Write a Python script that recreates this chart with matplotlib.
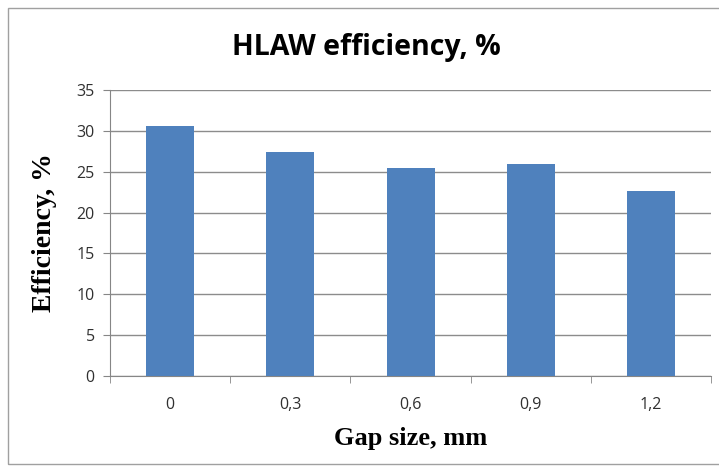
import matplotlib
matplotlib.use("Agg")
import matplotlib.pyplot as plt
from matplotlib.patches import Rectangle

gap_labels = ["0", "0,3", "0,6", "0,9", "1,2"]
efficiency = [30.6, 27.4, 25.4, 25.9, 22.7]
y_ticks = [0, 5, 10, 15, 20, 25, 30, 35]

fig = plt.figure(figsize=(7.19, 4.70), dpi=100)
ax = fig.add_axes([0.153, 0.2, 0.836, 0.6085])

# chart frame
fig.patches.append(Rectangle((0.011, 0.012), 1.2, 0.972, transform=fig.transFigure,
                             fill=False, edgecolor="#a0a0a0", linewidth=1.0))

x = range(len(gap_labels))
ax.bar(x, efficiency, width=0.4, color="#4F81BD", zorder=3)

ax.set_xlim(-0.5, len(gap_labels) - 0.5)
ax.set_ylim(0, 35)
ax.set_yticks(y_ticks)
ax.set_xticks(list(x))
ax.set_xticklabels(gap_labels)
ax.set_xticks([i - 0.5 for i in range(len(gap_labels) + 1)], minor=True)
ax.tick_params(axis="x", which="major", length=0, pad=15)
ax.tick_params(axis="x", which="minor", length=5, color="#868686")
ax.tick_params(axis="y", length=5, color="#868686", pad=6)
for lbl in ax.get_xticklabels() + ax.get_yticklabels():
    lbl.set_fontfamily("Open Sans")
    lbl.set_fontsize(11.5)
    lbl.set_color("#303030")

ax.yaxis.grid(True, color="#8c8c8c", linewidth=1.0, zorder=0)
for side in ["top", "right"]:
    ax.spines[side].set_visible(False)
for side in ["left", "bottom"]:
    ax.spines[side].set_color("#868686")

ax.set_xlabel("Gap size, mm", fontfamily="Liberation Serif", fontweight="bold",
              fontsize=19, labelpad=10)
ax.set_ylabel("Efficiency, %", fontfamily="Liberation Serif", fontweight="bold",
              fontsize=20, labelpad=14)
fig.text(0.509, 0.9, "HLAW efficiency, %", ha="center", va="center",
         fontfamily="Open Sans", fontweight="bold", fontsize=20.5)

fig.savefig("out.png", dpi=100)
